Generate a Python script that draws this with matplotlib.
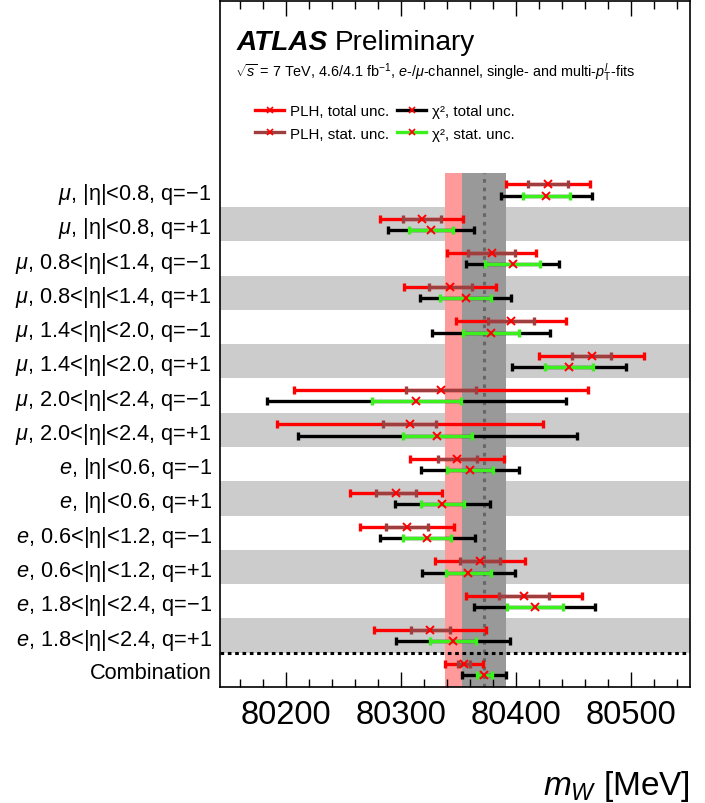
import matplotlib.pyplot as plt
import numpy as np
from matplotlib.lines import Line2D
from matplotlib.ticker import MultipleLocator

plt.rcParams["font.family"] = ["Liberation Sans", "DejaVu Sans"]
plt.rcParams["mathtext.fontset"] = "custom"
plt.rcParams["mathtext.rm"] = "Liberation Sans"
plt.rcParams["mathtext.it"] = "Liberation Sans:italic"
plt.rcParams["mathtext.bf"] = "Liberation Sans:bold"

# categories, top to bottom
labels = [
    r"$\mu$, |η|<0.8, q=−1",
    r"$\mu$, |η|<0.8, q=+1",
    r"$\mu$, 0.8<|η|<1.4, q=−1",
    r"$\mu$, 0.8<|η|<1.4, q=+1",
    r"$\mu$, 1.4<|η|<2.0, q=−1",
    r"$\mu$, 1.4<|η|<2.0, q=+1",
    r"$\mu$, 2.0<|η|<2.4, q=−1",
    r"$\mu$, 2.0<|η|<2.4, q=+1",
    r"$e$, |η|<0.6, q=−1",
    r"$e$, |η|<0.6, q=+1",
    r"$e$, 0.6<|η|<1.2, q=−1",
    r"$e$, 0.6<|η|<1.2, q=+1",
    r"$e$, 1.8<|η|<2.4, q=−1",
    r"$e$, 1.8<|η|<2.4, q=+1",
    "Combination",
]

# profile likelihood fit: central value, stat. and total uncertainty [MeV]
plh_val = [80428.0, 80318.0, 80378.9, 80343.0, 80395.7, 80465.9, 80334.7, 80307.8,
           80349.1, 80295.7, 80305.2, 80368.8, 80407.2, 80325.4, 80355.0]
plh_stat = [17.4, 16.5, 20.2, 18.6, 20.2, 17.0, 30.4, 23.0,
            17.3, 17.0, 18.4, 17.2, 21.7, 17.0, 5.1]
plh_tot = [36.3, 36.3, 38.5, 40.0, 47.5, 45.4, 128.0, 116.0,
           40.9, 40.0, 40.8, 39.2, 50.6, 49.0, 16.5]

# chi2 fit: central value, stat. and total uncertainty [MeV]
chi_val = [80426.6, 80326.0, 80397.1, 80356.4, 80378.1, 80446.2, 80313.5, 80331.7,
           80359.8, 80336.1, 80322.8, 80358.6, 80416.5, 80345.1, 80372.5]
chi_stat = [20.3, 19.2, 24.0, 22.0, 24.2, 20.5, 38.6, 29.7,
            20.1, 19.0, 20.8, 19.8, 24.6, 19.8, 6.7]
chi_tot = [39.5, 37.6, 40.5, 39.7, 51.3, 50.0, 130.5, 121.5,
           42.5, 41.6, 41.3, 40.6, 52.7, 49.6, 19.2]

red = "#ff0000"
brown = "#9e3e3e"
green = "#3cf01e"

n = len(labels)
ypos = np.arange(n)[::-1] + 0.5

fig = plt.figure(figsize=(7.05, 8.04), dpi=100)
ax = fig.add_axes([0.312, 0.1443, 0.6667, 0.8527])
ax.set_xlim(80142.5, 80551.5)
ax.set_ylim(0, 20)

# alternating grey stripes
for i, y in enumerate(ypos):
    if i % 2 == 1:
        ax.axhspan(y - 0.5, y + 0.5, color="#cccccc", lw=0, zorder=0)

# combination bands
ax.fill_betweenx([0, n], plh_val[-1] - plh_tot[-1], plh_val[-1] + plh_tot[-1],
                 color="#ff9a9a", lw=0, zorder=1)
ax.fill_betweenx([0, n], chi_val[-1] - chi_tot[-1], chi_val[-1] + chi_tot[-1],
                 color="#999999", lw=0, zorder=1.5)
ax.plot([chi_val[-1]] * 2, [0, n], color="#666666", lw=2.2, ls=(0, (1.2, 1.6)), zorder=2)
ax.axhline(1, color="black", lw=2.2, ls=(0, (1.2, 1.2)), zorder=2)

off = 0.165
bar = dict(fmt="none", elinewidth=2.4, capsize=2.6, capthick=2.4)
ax.errorbar(plh_val, ypos + off, xerr=plh_tot, ecolor=red, zorder=3, **bar)
ax.errorbar(plh_val, ypos + off, xerr=plh_stat, ecolor=brown, zorder=4, **bar)
ax.errorbar(chi_val, ypos - off, xerr=chi_tot, ecolor="black", zorder=3, **bar)
ax.errorbar(chi_val, ypos - off, xerr=chi_stat, ecolor=green, zorder=4, **bar)
ax.plot(plh_val, ypos + off, "x", color=red, ms=6, mew=1.4, zorder=5)
ax.plot(chi_val, ypos - off, "x", color=red, ms=6, mew=1.4, zorder=5)

ax.set_yticks(ypos)
ax.set_yticklabels(labels, fontsize=15.7)
ax.tick_params(axis="y", length=0, pad=6)

ax.xaxis.set_major_locator(MultipleLocator(100))
ax.xaxis.set_minor_locator(MultipleLocator(20))
ax.tick_params(axis="x", which="major", direction="in", top=True, length=11,
               width=1, labelsize=23.6, pad=9)
ax.tick_params(axis="x", which="minor", direction="in", top=True, length=5.5, width=1)
for s in ax.spines.values():
    s.set_linewidth(1.2)

ax.set_xlabel(r"$m_W$ [MeV]", fontsize=24, loc="right", labelpad=27)

ax.text(0.036, 0.930, "ATLAS", transform=ax.transAxes, fontsize=20.2,
        fontweight="bold", fontstyle="italic")
ax.text(0.245, 0.930, "Preliminary", transform=ax.transAxes, fontsize=20.2)
ax.text(0.033, 0.891,
        r"$\sqrt{s}$ = 7 TeV, 4.6/4.1 fb$^{-1}$, $e$-/$\mu$-channel, "
        r"single- and multi-$p_\mathrm{T}^{l}$-fits",
        transform=ax.transAxes, fontsize=10.4)

handles = [
    Line2D([], [], color=red, lw=2.4, marker="x", mec=red, ms=4, mew=1.2),
    Line2D([], [], color=brown, lw=2.4, marker="x", mec=red, ms=4, mew=1.2),
    Line2D([], [], color="black", lw=2.4, marker="x", mec=red, ms=4, mew=1.2),
    Line2D([], [], color=green, lw=2.4, marker="x", mec=red, ms=4, mew=1.2),
]
names = ["PLH, total unc.", "PLH, stat. unc.", "χ², total unc.", "χ², stat. unc."]
ax.legend(handles, names, ncol=2, loc="upper left", bbox_to_anchor=(0.075, 0.850),
          frameon=False, fontsize=10.9, handlelength=1.9, handletextpad=0.4,
          columnspacing=0.55, labelspacing=0.55, borderpad=0, borderaxespad=0)

fig.savefig("out.png", dpi=100)
